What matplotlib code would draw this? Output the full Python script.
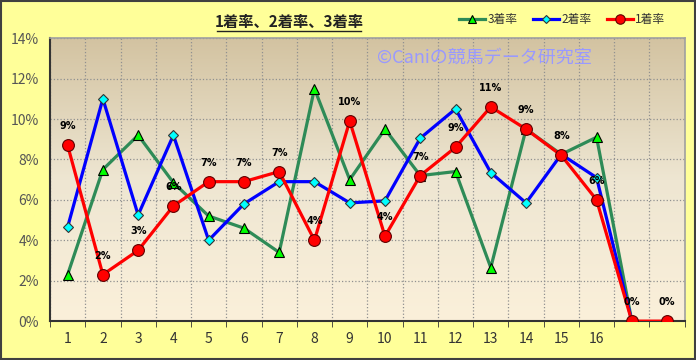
import numpy as np
import matplotlib.pyplot as plt
from matplotlib.colors import LinearSegmentedColormap

plt.rcParams['font.family'] = ['Noto Sans CJK JP', 'DejaVu Sans']

# data
categories = ['1', '2', '3', '4', '5', '6', '7', '8', '9', '10',
              '11', '12', '13', '14', '15', '16', '', '']
win = [8.7, 2.3, 3.5, 5.7, 6.9, 6.9, 7.4, 4.0, 9.9, 4.2,
       7.2, 8.6, 10.6, 9.5, 8.2, 6.0, 0.0, 0.0]
win_labels = ['9%', '2%', '3%', '6%', '7%', '7%', '7%', '4%', '10%', '4%',
              '7%', '9%', '11%', '9%', '8%', '6%', '0%', '0%']
second = [4.65, 11.0, 5.25, 9.2, 4.0, 5.8, 6.9, 6.9, 5.85, 5.95,
          9.05, 10.5, 7.35, 5.85, 8.25, 7.1, 0.0]
third = [2.3, 7.5, 9.2, 6.85, 5.2, 4.6, 3.4, 11.5, 7.0, 9.5,
         7.2, 7.4, 2.65, 9.5, 8.25, 9.1, 0.0]

fig = plt.figure(figsize=(6.96, 3.6), dpi=100, facecolor='#FFFF99')
fig.patches.append(plt.Rectangle((0.002, 0.003), 0.996, 0.994, transform=fig.transFigure,
                                 fill=False, edgecolor='#404040', linewidth=1.5))
ax = fig.add_axes([0.0718, 0.108, 0.912, 0.786])

n = len(categories)
x = np.arange(n)
ax.set_xlim(-0.5, n - 0.5)
ax.set_ylim(0, 14)

# gradient background (dark tan at top, light cream at bottom)
cmap = LinearSegmentedColormap.from_list('bg', ['#D3C3A1', '#EEE6D2', '#FBF0DA'])
grad = np.linspace(0, 1, 256).reshape(-1, 1)
ax.imshow(grad, cmap=cmap, aspect='auto', extent=(-0.5, n - 0.5, 0, 14),
          zorder=0, vmin=0, vmax=1)

ax.set_yticks(np.arange(0, 15, 2))
ax.set_yticklabels([f'{v}%' for v in range(0, 15, 2)])
ax.set_xticks(x)
ax.set_xticklabels(categories)
ax.set_xticks(np.arange(-0.5, n, 1), minor=True)
ax.grid(True, which='minor', axis='x', color='#909090', linestyle=':', linewidth=0.9)
ax.grid(True, which='major', axis='y', color='#909090', linestyle=':', linewidth=0.9)
ax.tick_params(axis='x', which='major', length=0, pad=8, labelsize=10, colors='#333333')
ax.tick_params(axis='x', which='minor', length=4, color='#333333', direction='out')
ax.tick_params(axis='y', length=0, pad=8, labelsize=10, labelcolor='#555555')
for s in ['left', 'bottom']:
    ax.spines[s].set_color('#333333')
    ax.spines[s].set_linewidth(1.5)
for s in ['top', 'right']:
    ax.spines[s].set_color('#A0A0A0')
    ax.spines[s].set_linewidth(1.2)

l3, = ax.plot(x[:len(third)], third, color='#2E8B57', lw=2.3, marker='^', ms=7,
              mfc='#00FF00', mec='black', mew=0.8, zorder=3, label='3着率')
l2, = ax.plot(x[:len(second)], second, color='#0000FF', lw=2.3, marker='D', ms=5.5,
              mfc='#00FFFF', mec='#333333', mew=0.8, zorder=4, label='2着率')
l1, = ax.plot(x, win, color='#FF0000', lw=2.3, marker='o', ms=8.5,
              mfc='#FF0000', mec='#600000', mew=0.8, zorder=5, label='1着率')

for xi, v, t in zip(x, win, win_labels):
    ax.annotate(t, (xi, v), xytext=(0, 10), textcoords='offset points',
                ha='center', va='bottom', fontsize=7, fontweight='bold',
                family='DejaVu Sans', zorder=6)

ax.text(0.685, 0.929, '©Caniの競馬データ研究室', transform=ax.transAxes,
        ha='center', va='center', fontsize=13, color='#9999FF', zorder=2)

fig.text(0.415, 0.94, '1着率、2着率、3着率', ha='center', va='center',
         fontsize=11, fontweight='bold', color='#222222')
fig.lines.append(plt.Line2D([0.312, 0.518], [0.913, 0.913], transform=fig.transFigure,
                            color='#222222', lw=1))

fig.legend(handles=[l3, l2, l1], loc='center', bbox_to_anchor=(0.808, 0.945),
           ncol=3, frameon=False, fontsize=8.5, handlelength=2.2, columnspacing=1.3,
           handletextpad=0.2, markerscale=0.8, labelcolor='#333333')

fig.savefig('out.png', dpi=100, facecolor=fig.get_facecolor())
